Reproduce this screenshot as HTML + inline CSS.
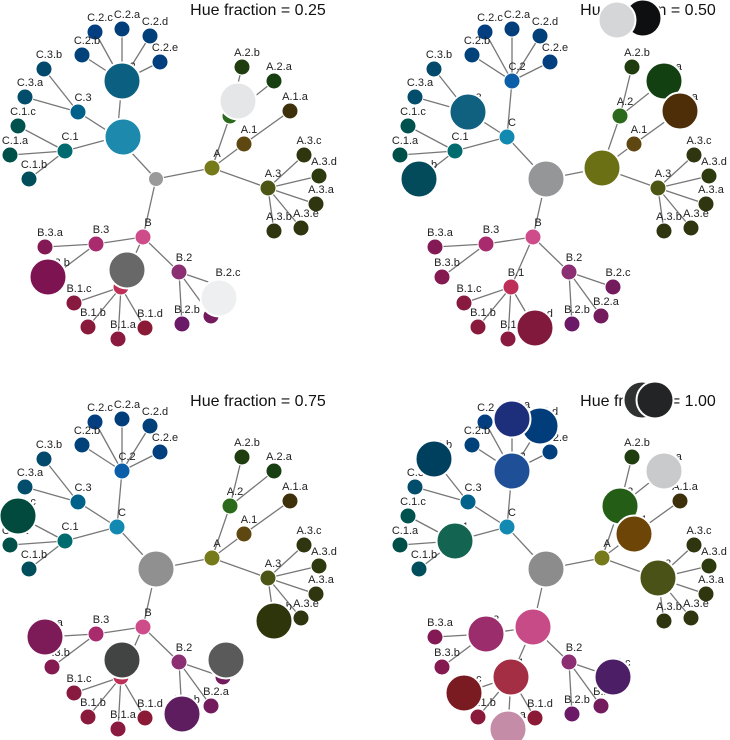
<!DOCTYPE html>
<html><head><meta charset="utf-8">
<style>
html,body{margin:0;padding:0;background:#fff;}
svg{display:block;}
text{font-family:"Liberation Sans",Arial,sans-serif;}
</style></head>
<body>
<svg id="chart" width="730" height="740" viewBox="0 0 730 740" xmlns="http://www.w3.org/2000/svg"></svg>
<script>
// Tree nodes (shared layout, base coordinates)
const nodeNames = ["root","A","A.1","A.1.a","A.2","A.2.a","A.2.b","A.3","A.3.a","A.3.b","A.3.c","A.3.d","A.3.e",
  "B","B.1","B.1.a","B.1.b","B.1.c","B.1.d","B.2","B.2.a","B.2.b","B.2.c","B.3","B.3.a","B.3.b",
  "C","C.1","C.1.a","C.1.b","C.1.c","C.2","C.2.a","C.2.b","C.2.c","C.2.d","C.2.e","C.3","C.3.a","C.3.b"];
const nodeParents = ["","root","A","A.1","A","A.2","A.2","A","A.3","A.3","A.3","A.3","A.3",
  "root","B","B.1","B.1","B.1","B.1","B","B.2","B.2","B.2","B","B.3","B.3",
  "root","C","C.1","C.1","C.1","C","C.2","C.2","C.2","C.2","C.2","C","C.3","C.3"];
const nodeX = [181,237,269,315,255,299,267,293,341,299,329,344,326,
  168,146,143,113,99,170,204,236,207,248,121,70,77,
  142,90,35,54,43,147,147,107,120,175,185,103,50,69];
const nodeY = [179,168,144,111,116,81,67,188,204,231,155,176,228,
  237,287,339,327,303,328,272,316,324,287,244,247,277,
  137,151,155,179,126,81,29,55,32,36,62,112,97,69];
const nodeColors = ["#9a9a9a","#767a1a","#5e4710","#3e300a","#2b6a1c","#183f12","#203d10","#4d5515","#2f350e","#2f350e","#2f350e","#2c3a0e","#2f350e",
  "#cf4c8a","#be2f58","#8a1a40","#8a1a3c","#881a40","#8a1a35","#8c2f72","#741b5e","#6a1a66","#741b5e","#a82b6e","#841a55","#841a50",
  "#1189b0","#006b6e","#00504a","#004e5c","#00524f","#0d5ea8","#023f7a","#02427a","#023e80","#014078","#023f7f","#00628a","#024d6b","#02496b"];
// Panels
const panelTitles = ["Hue fraction = 0.25","Hue fraction = 0.50","Hue fraction = 0.75","Hue fraction = 1.00"];
const panelDX = [-25,365,-25,365];
const panelDY = [0,0,390,390];
// Highlighted (enlarged) nodes per panel: node name, color, optional offset from node
const bigP1 = [["C","#1d8aad",6,0],["C.2","#0b5f80"],["A.2","#e5e6e8",8,-15],["B.3.b","#7d1350",-4,0],["B.1","#686868",6,-17],["B.2.c","#eeeff0",-4,11]];
const bigP2 = [["A.2.a","#124010"],["A.1.a","#4d2e08"],["A","#6b7015"],["root","#949697"],["C.3","#10617f"],["C.1.b","#034b5b"],["B.1.d","#80193c"]];
const bigP3 = [["C.1.c","#024a3d"],["root","#909090"],["A.3.b","#2e350b"],["B.3.a","#7d1a58"],["B.1","#424444",1,-17],["B.2.c","#5a5a5a",3,-17],["B.2.b","#5e1d5e"]];
const bigP4 = [["C.2.d","#003d7a"],["C.2.a","#1d2f7a"],["C.2","#1f4f96"],["C.3.b","#00405f"],["C.1","#136450"],["root","#8b8c8b"],["A.2","#245e16"],["A.2.a","#c9cacc"],["A.1","#6d4507"],["A.3","#4b5217"],["B.3","#9b2d6d"],["B","#c64b87"],["B.1","#a42e44"],["B.1.c","#7a1b22"],["B.1.a","#c48ca7"],["B.2.c","#4c1e66"]];
const bigSets = [bigP1,bigP2,bigP3,bigP4];
// Title-area overlapping circles
const titleDotsPanel = [1,1,3,3];
const titleDotsX = [278,252,277,290];
const titleDotsY = [18,20,400,400];
const titleDotsColor = ["#0e0f10","#d5d6d7","#303131","#232425"];

const NS="http://www.w3.org/2000/svg";
const svg=document.getElementById('chart');
function mk(tag,attrs,parent){const e=document.createElementNS(NS,tag);for(const k in attrs)e.setAttribute(k,attrs[k]);(parent||svg).appendChild(e);return e;}
function idx(n){return nodeNames.indexOf(n);}

for(let p=0;p<4;p++){
  const g=mk('g',{});
  
  
  const sx=x=>x+panelDX[p], sy=y=>y+panelDY[p];
  for(let i=0;i<nodeNames.length;i++){
    if(!nodeParents[i])continue;
    const j=idx(nodeParents[i]);
    const l=mk('line',{x1:sx(nodeX[j]),y1:sy(nodeY[j]),x2:sx(nodeX[i]),y2:sy(nodeY[i]),stroke:'#777',"stroke-width":1.3},g);
    
    
  }
  for(let i=0;i<nodeNames.length;i++){
    const c=mk('circle',{cx:sx(nodeX[i]),cy:sy(nodeY[i]),r:i===0?7.5:8,fill:nodeColors[i],stroke:'#fff',"stroke-width":1},g);
    
    
  }
  for(let i=1;i<nodeNames.length;i++){
    const t=mk('text',{x:sx(nodeX[i])+5,y:sy(nodeY[i])-11,"font-size":11,fill:'#222',"text-anchor":'middle'},g);
    t.textContent=nodeNames[i];
    
    
  }
  const tt=mk('text',{x:sx(283),y:sy(15)+(p>1?1:0),"font-size":16,fill:'#111',"text-anchor":'middle'},g);
  tt.textContent=panelTitles[p];
  
  
  for(const b of bigSets[p]){
    const i=idx(b[0]);
    const ox=b[2]||0, oy=b[3]||0;
    const c=mk('circle',{cx:sx(nodeX[i])+ox,cy:sy(nodeY[i])+oy,r:18.5,fill:b[1],stroke:'#fff',"stroke-width":2},g);
    
    
  }
  for(let k=0;k<titleDotsPanel.length;k++){
    if(titleDotsPanel[k]!==p)continue;
    const c=mk('circle',{cx:365+titleDotsX[k],cy:titleDotsY[k],r:18.5,fill:titleDotsColor[k],stroke:'#fff',"stroke-width":2},g);
    
    
  }
}
</script>
</body></html>
